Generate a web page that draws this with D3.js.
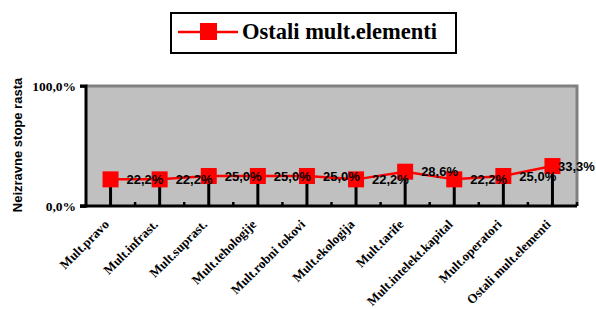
<!DOCTYPE html>
<html><head><meta charset="utf-8">
<script src="https://cdn.jsdelivr.net/npm/d3@7/dist/d3.min.js"></script>
<style>html,body{margin:0;padding:0;background:#fff;}svg{display:block;}</style>
</head><body>
<script>
const categories = ["Mult.pravo","Mult.infrast.","Mult.suprast.","Mult.tehologije","Mult.robni tokovi","Mult.ekologija","Mult.tarife","Mult.intelekt.kapital","Mult.operatori","Ostali mult.elementi"];
const values = [22.2,22.2,25.0,25.0,25.0,22.2,28.6,22.2,25.0,33.3];
const seriesName = "Ostali mult.elementi";
const yTicks = [0,100];
const yTitle = "Neizravne stope rasta";

const W=596,H=309;
const m={left:86,right:19,top:86,bottom:103};
const svg=d3.select("body").append("svg").attr("width",W).attr("height",H);
const x=d3.scaleBand().domain(categories).range([m.left,W-m.right]).padding(0);
const y=d3.scaleLinear().domain([0,100]).range([H-m.bottom,m.top]);
const fmt=v=>v.toFixed(1).replace(".",",")+"%";

// plot area
svg.append("rect").attr("x",m.left).attr("y",m.top).attr("width",W-m.right-m.left).attr("height",H-m.bottom-m.top).attr("fill","#c0c0c0");
// top & right gray border
svg.append("path").attr("d",`M${m.left},${m.top}H${W-m.right}V${H-m.bottom}`).attr("fill","none").attr("stroke","#808080").attr("stroke-width",3);

// drop lines
svg.append("g").selectAll("line").data(values).join("line")
  .attr("x1",(d,i)=>x(categories[i])+x.bandwidth()/2).attr("x2",(d,i)=>x(categories[i])+x.bandwidth()/2)
  .attr("y1",y(0)).attr("y2",d=>y(d)).attr("stroke","#000").attr("stroke-width",3);

// minor ticks at boundaries (inside)
svg.append("g").selectAll("line").data(categories).join("line")
  .attr("x1",(d,i)=>x(categories[i])+x.bandwidth()).attr("x2",(d,i)=>x(categories[i])+x.bandwidth())
  .attr("y1",y(0)).attr("y2",y(0)-4).attr("stroke","#000").attr("stroke-width",2.5);

// y axis
const yAxis=d3.axisLeft(y).tickValues(yTicks).tickSize(6).tickFormat(fmt);
const gy=svg.append("g").attr("transform",`translate(${m.left},0)`).call(yAxis);
gy.select(".domain").attr("stroke","#000").attr("stroke-width",3).attr("d",`M-6,${m.top}H0V${H-m.bottom}H-6`);
gy.selectAll(".tick line").attr("stroke","#000").attr("stroke-width",2.5);
gy.selectAll(".tick text").attr("font-family","'Liberation Serif','Times New Roman',serif").attr("font-weight","bold").attr("font-size",13.5).attr("fill","#000").attr("x",-10);

// x axis line
const xAxis=d3.axisBottom(x).tickSize(0).tickFormat("");
const gx=svg.append("g").attr("transform",`translate(0,${y(0)})`).call(xAxis);
gx.select(".domain").attr("stroke","#000").attr("stroke-width",3).attr("d",`M${m.left-6},0H${W-m.right}`);

// category labels
svg.append("g").selectAll("text").data(categories).join("text")
  .attr("transform",d=>`translate(${x(d)+x.bandwidth()/2-4},${y(0)+16}) rotate(-45)`)
  .attr("text-anchor","end").attr("dy","0.35em")
  .attr("font-family","'Liberation Serif','Times New Roman',serif").attr("font-weight","bold").attr("font-size",13)
  .attr("fill","#000").text(d=>d);

// y title
svg.append("text").attr("transform",`translate(22,${(m.top+H-m.bottom)/2-1}) rotate(-90)`)
  .attr("text-anchor","middle").attr("font-family","'Liberation Sans',Arial,sans-serif").attr("font-weight","bold").attr("font-size",13)
  .attr("fill","#000").text(yTitle);

// line
const line=d3.line().x((d,i)=>x(categories[i])+x.bandwidth()/2).y(d=>y(d));
svg.append("path").datum(values).attr("d",line).attr("fill","none").attr("stroke","#ff0000").attr("stroke-width",2.5);
// markers
const s=16;
svg.append("g").selectAll("rect").data(values).join("rect")
  .attr("x",(d,i)=>x(categories[i])+x.bandwidth()/2-s/2).attr("y",d=>y(d)-s/2)
  .attr("width",s).attr("height",s).attr("fill","#ff0000");

// data labels
svg.append("g").selectAll("text").data(values).join("text")
  .attr("x",(d,i)=>Math.min(x(categories[i])+x.bandwidth()/2+16, W-38))
  .attr("y",d=>y(d)).attr("dy","0.35em")
  .attr("font-family","'Liberation Sans',Arial,sans-serif").attr("font-weight","bold").attr("font-size",13)
  .attr("fill","#000").text(d=>fmt(d));

// legend
const lg=svg.append("g");
lg.append("rect").attr("x",171).attr("y",13).attr("width",285).attr("height",40).attr("fill","#fff").attr("stroke","#000").attr("stroke-width",2);
lg.append("line").attr("x1",178).attr("x2",238).attr("y1",32).attr("y2",32).attr("stroke","#ff0000").attr("stroke-width",2.5);
lg.append("rect").attr("x",200).attr("y",23).attr("width",17).attr("height",17).attr("fill","#ff0000");
lg.append("text").attr("x",242).attr("y",38.5).attr("font-family","'Liberation Serif','Times New Roman',serif").attr("font-weight","bold").attr("font-size",22.5).attr("fill","#000").text(seriesName);
</script>
</body></html>
